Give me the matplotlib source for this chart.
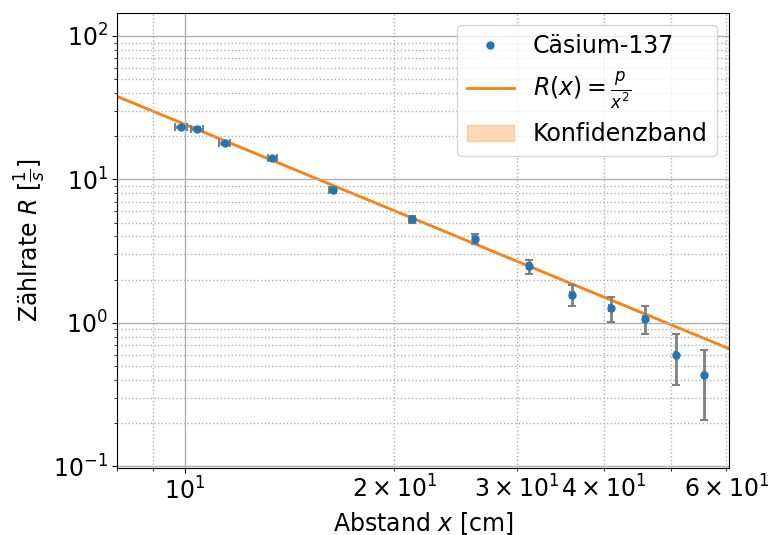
import numpy as np
import matplotlib
matplotlib.use('Agg')
import matplotlib.pyplot as plt

# Messdaten Cs-137
abstand = [9.87, 10.4, 11.4, 13.35, 16.3, 21.2, 26.1, 31.2, 36.0, 40.9, 45.8, 50.8, 55.7]  # cm
abstand_err = [0.2] * 13
rate = [23.3, 22.6, 17.8, 14.0, 8.5, 5.27, 3.85, 2.47, 1.57, 1.26, 1.07, 0.60, 0.43]  # 1/s
rate_err = [0.45, 0.42, 0.38, 0.36, 0.34, 0.33, 0.31, 0.28, 0.26, 0.25, 0.24, 0.23, 0.22]

# Fitparameter R(x) = p / x^2
p_fit = 2420.0
p_err = 15.0

plt.rcParams['font.size'] = 17

fig = plt.figure(figsize=(7.73, 5.35), dpi=100)
ax = fig.add_axes([0.152, 0.125, 0.791, 0.851])

x_fit = np.geomspace(7.5, 65, 200)
ax.errorbar(abstand, rate, xerr=abstand_err, yerr=rate_err, fmt='none',
            ecolor='grey', elinewidth=2, capsize=3, capthick=1.5, zorder=2)
ax.plot(abstand, rate, 'o', color='C0', markersize=5, label='Cäsium-137', zorder=3)
ax.plot(x_fit, p_fit / x_fit**2, color='C1', linewidth=2,
        label=r'$R(x) = \frac{p}{x^2}$', zorder=1)
ax.fill_between(x_fit, (p_fit - p_err) / x_fit**2, (p_fit + p_err) / x_fit**2,
                color='C1', alpha=0.3, label='Konfidenzband', zorder=1)

ax.set_xscale('log')
ax.set_yscale('log')
ax.set_xlim(8.0, 60.5)
ax.set_ylim(0.097, 145)

ax.grid(which='major', color='#b0b0b0', linestyle='-', linewidth=1)
ax.grid(which='minor', color='#b0b0b0', linestyle=':', linewidth=1)

ax.set_xlabel(r'Abstand $x$ [cm]')
ax.set_ylabel(r'Zählrate $R$ [$\frac{1}{s}$]')
ax.legend(loc='upper right')

fig.savefig('out.png', dpi=100)
